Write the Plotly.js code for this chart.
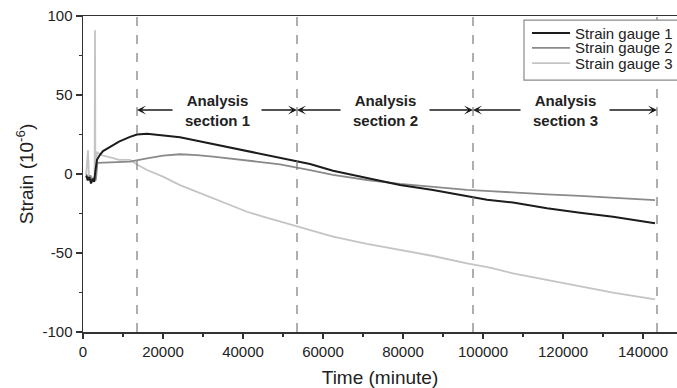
<!DOCTYPE html>
<html>
<head>
<meta charset="utf-8">
<script src="https://cdn.plot.ly/plotly-3.0.1.min.js"></script>
<style>
  html, body { margin: 0; padding: 0; background: #fff; }
  #chart { width: 677px; height: 388px; }
</style>
</head>
<body>
<div id="chart"></div>
<script>
// Strain gauge readings over time (minutes), strain in 1e-6
const seriesNames = ['Strain gauge 1', 'Strain gauge 2', 'Strain gauge 3'];

const time1 = [800, 1200, 1600, 2000, 2400, 2800, 3100, 3500, 4200, 5000, 7000, 9000, 11750, 13500, 16000, 20000,
  24250, 28500, 32500, 36750, 41000, 45000, 49250, 53500, 56750, 62500, 71000, 79250, 87500, 96000, 101000,
  107500, 116000, 124250, 132500, 143000];
const strain1 = [-1, -4, -2, -6, -3, -5, 2, 9, 12, 14.5, 17.5, 20.5, 23.5, 25, 25.5, 24.5,
  23.2, 21.1, 19, 16.9, 14.8, 12.5, 10.3, 8.2, 6.3, 2.1, -2.7, -7, -10.1, -13.9, -16.3,
  -18.1, -21.7, -24.5, -27, -31.2];

const time2 = [800, 1300, 1800, 2300, 2800, 3200, 3600, 6000, 9000, 11750, 16000, 20000, 24250, 28500, 32500,
  36750, 41000, 45000, 49250, 53500, 56750, 62500, 71000, 79250, 87500, 96000, 101750, 107500, 116000,
  124250, 132500, 143000];
const strain2 = [0, -3, -1, -5, -2, -4, 7, 7.2, 7.5, 7.8, 9.9, 11.6, 12.5, 12, 11,
  9.9, 8.9, 7.4, 6.1, 4.2, 2.5, -0.6, -3.8, -6.3, -8.4, -10.1, -10.8, -11.8, -12.9,
  -13.9, -15, -16.5];

const time3 = [800, 1250, 1500, 2000, 2500, 2900, 3000, 3100, 3500, 4500, 7500, 9000, 11750, 13500, 16000,
  20000, 24250, 28500, 32500, 36750, 41000, 45000, 49250, 53500, 56750, 62500, 71000, 79250, 87500, 96000,
  101750, 107500, 116000, 124250, 132500, 143000];
const strain3 = [0, 15, -3, -1, -4, -2, 91, 0, 14, 12, 10, 9, 8.9, 6, 2.5,
  -1.7, -7, -11.2, -15.4, -19.6, -23.9, -27, -30.2, -33.4, -35.4, -39.7, -44.3, -48.1, -51.9, -56.5,
  -59.3, -62.9, -67.1, -71.3, -75.1, -79.3];

// Boundaries of the analysis sections and their labels
const sectionEdges = [13500, 53500, 97500, 143500];
const sectionLabels = ['Analysis<br>section 1', 'Analysis<br>section 2', 'Analysis<br>section 3'];
const sectionLevel = 40.5;

const xTicks = [0, 20000, 40000, 60000, 80000, 100000, 120000, 140000];
const yTicks = [-100, -50, 0, 50, 100];

const colors = ['#1c1c1c', '#8a8a8a', '#c4c4c4'];
const widths = [2, 1.8, 1.8];
const FONT = 'Liberation Sans, Arial, sans-serif';

const timeSets = [time1, time2, time3];
const strainSets = [strain1, strain2, strain3];

// draw lightest first so the dark gauge sits on top
const traces = [2, 1, 0].map(i => ({
  type: 'scatter',
  mode: 'lines',
  name: seriesNames[i],
  x: timeSets[i],
  y: strainSets[i],
  line: { color: colors[i], width: widths[i] },
  showlegend: false,
  hoverinfo: 'skip'
}));

const shapes = [];
const annotations = [];

// dashed section boundaries
sectionEdges.forEach(x => {
  shapes.push({
    type: 'line', xref: 'x', yref: 'paper', x0: x, x1: x, y0: 0, y1: 1,
    line: { color: '#7a7a7a', width: 1.2, dash: 'dash' }
  });
});

// section labels with arrows pointing to each boundary
const arrowGap = 10750;
sectionLabels.forEach((label, i) => {
  const left = sectionEdges[i], right = sectionEdges[i + 1];
  const mid = (left + right) / 2;
  annotations.push({
    x: mid, y: sectionLevel, xref: 'x', yref: 'y', text: '<b>' + label + '</b>',
    showarrow: false, font: { family: FONT, size: 15, color: '#222' }, align: 'center'
  });
  [[left, mid - arrowGap], [right, mid + arrowGap]].forEach(([head, tail]) => {
    annotations.push({
      x: head, y: sectionLevel, ax: tail, ay: sectionLevel,
      xref: 'x', yref: 'y', axref: 'x', ayref: 'y',
      text: '', showarrow: true, arrowhead: 3, arrowsize: 1, arrowwidth: 1.5,
      arrowcolor: '#1a1a1a', standoff: 0, startstandoff: 0
    });
  });
});

// legend box
const lgX0 = 0.7424, lgX1 = 1.03, lgY0 = 0.797, lgY1 = 0.987;
shapes.push({
  type: 'rect', xref: 'paper', yref: 'paper', x0: lgX0, x1: lgX1, y0: lgY0, y1: lgY1,
  line: { color: '#8a8a8a', width: 1.2 }, fillcolor: 'rgba(255,255,255,1)', layer: 'above'
});
const rowY = [0.946, 0.899, 0.851];
seriesNames.forEach((name, i) => {
  shapes.push({
    type: 'line', xref: 'paper', yref: 'paper', x0: 0.7559, x1: 0.8199, y0: rowY[i], y1: rowY[i],
    line: { color: colors[i], width: widths[i] }, layer: 'above'
  });
  annotations.push({
    xref: 'paper', yref: 'paper', x: 0.825, y: rowY[i], xanchor: 'left', yanchor: 'middle',
    text: name, showarrow: false, font: { family: FONT, size: 15, color: '#222' }
  });
});

const layout = {
  width: 677, height: 388,
  margin: { l: 83, r: 0, t: 16, b: 56 },
  paper_bgcolor: '#fff', plot_bgcolor: '#fff',
  font: { family: FONT, size: 15, color: '#222' },
  showlegend: false,
  xaxis: {
    range: [0, 148500],
    tickvals: xTicks, ticktext: xTicks.map(String),
    ticks: 'outside', ticklen: 5, tickwidth: 1.2, tickcolor: '#333',
    minor: { dtick: 10000, tick0: 0, ticks: 'outside', ticklen: 3, tickcolor: '#333' },
    showline: true, linecolor: '#333', linewidth: 1.5, mirror: true,
    showgrid: false, zeroline: false,
    tickfont: { family: FONT, size: 15, color: '#222' },
    title: { text: 'Time (minute)', font: { family: FONT, size: 19, color: '#222' }, standoff: 12 }
  },
  yaxis: {
    range: [-100, 100],
    tickvals: yTicks, ticktext: yTicks.map(String),
    ticks: 'outside', ticklen: 6, tickwidth: 1.2, tickcolor: '#333',
    minor: { dtick: 25, tick0: 0, ticks: 'outside', ticklen: 3, tickcolor: '#333' },
    showline: true, linecolor: '#333', linewidth: 1.5, mirror: false,
    showgrid: false, zeroline: false,
    tickfont: { family: FONT, size: 15, color: '#222' },
    title: { text: 'Strain (10<sup>-6</sup>)', font: { family: FONT, size: 19, color: '#222' }, standoff: 4 }
  },
  shapes: shapes,
  annotations: annotations
};

Plotly.newPlot('chart', traces, layout, { staticPlot: true, displayModeBar: false });
</script>
</body>
</html>
